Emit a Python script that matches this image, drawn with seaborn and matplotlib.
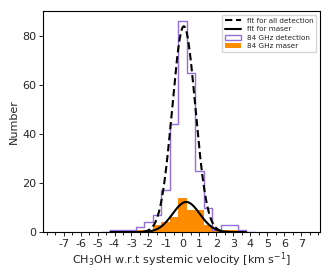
import numpy as np
import pandas as pd
import matplotlib
matplotlib.use("Agg")
import matplotlib.pyplot as plt
from matplotlib.patches import Patch
from matplotlib.lines import Line2D
from matplotlib.ticker import MultipleLocator
import seaborn as sns

# histogram bins (0.5 km/s wide), counts
bin_edges = [-4.75, -4.25, -3.75, -3.25, -2.75, -2.25, -1.75, -1.25, -0.75, -0.25,
             0.25, 0.75, 1.25, 1.75, 2.25, 2.75, 3.25, 3.75, 4.25]
bin_centers = [-4.5, -4.0, -3.5, -3.0, -2.5, -2.0, -1.5, -1.0, -0.5, 0.0,
               0.5, 1.0, 1.5, 2.0, 2.5, 3.0, 3.5, 4.0]
detection_counts = [0, 1, 1, 1, 2, 4, 7, 17, 44, 86, 65, 25, 10, 1, 3, 3, 1, 0]
maser_counts = [0, 1, 1, 1, 1, 1, 3, 4, 6, 14, 9, 9, 3, 1, 1, 1, 1, 0]
xtick_values = [-7, -6, -5, -4, -3, -2, -1, 0, 1, 2, 3, 4, 5, 6, 7]

# gaussian fit parameters (amplitude, centre, sigma)
fit_all = (84.0, 0.08, 0.68)
fit_maser = (12.3, 0.22, 0.80)
fit_range = (-4.25, 3.75)

purple = "mediumpurple"
orange = "darkorange"

sns.set_style("ticks")
plt.rcParams['font.family'] = ['DejaVu Sans']
plt.rcParams['axes.unicode_minus'] = False

df = pd.DataFrame({"v": bin_centers, "det": detection_counts, "maser": maser_counts})

fig = plt.figure(figsize=(3.32, 2.77), dpi=100)
ax = fig.add_axes([0.13, 0.162, 0.834, 0.798])

sns.histplot(data=df, x="v", weights="maser", bins=bin_edges, element="bars",
             fill=True, color=orange, alpha=1, linewidth=0, ax=ax)
sns.histplot(data=df, x="v", weights="det", bins=bin_edges, element="step",
             fill=False, color=purple, linewidth=1.0, ax=ax)

xx = np.linspace(fit_range[0], fit_range[1], 400)
def gauss(x, a, mu, sig):
    return a * np.exp(-(x - mu) ** 2 / (2 * sig ** 2))

sns.lineplot(x=xx, y=gauss(xx, *fit_all), color="black", linestyle=(0, (3.5, 1.8)),
             linewidth=1.5, ax=ax)
sns.lineplot(x=xx, y=gauss(xx, *fit_maser), color="black", linestyle="-", linewidth=1.5, ax=ax)

ax.set_xlim(-8.2, 8.1)
ax.set_ylim(0, 90.2)
ax.set_xticks(xtick_values)
ax.xaxis.set_minor_locator(MultipleLocator(0.5))
ax.set_yticks([0, 20, 40, 60, 80])
ax.tick_params(axis="both", which="major", labelsize=8, length=3, width=0.6, color="black", pad=2)
ax.tick_params(axis="x", which="minor", length=2, width=0.6, color="black")
for s in ax.spines.values():
    s.set_color("black")
    s.set_linewidth(0.8)
ax.set_xlabel(r"CH$_3$OH w.r.t systemic velocity [km s$^{-1}$]", fontsize=8, labelpad=1)
ax.set_ylabel("Number", fontsize=8, labelpad=2)

handles = [
    Line2D([], [], color="black", linestyle=(0, (3.5, 1.8)), linewidth=1.5),
    Line2D([], [], color="black", linestyle="-", linewidth=1.5),
    Patch(facecolor="none", edgecolor=purple, linewidth=1.0),
    Patch(facecolor=orange, edgecolor="none"),
]
labels = ["fit for all detection", "fit for maser", "84 GHz detection", "84 GHz maser"]
ax.legend(handles, labels, loc="upper right", fontsize=5.2, frameon=True,
          borderaxespad=0.5, handlelength=2.2, labelspacing=0.35)

fig.savefig("out.png", dpi=100)
